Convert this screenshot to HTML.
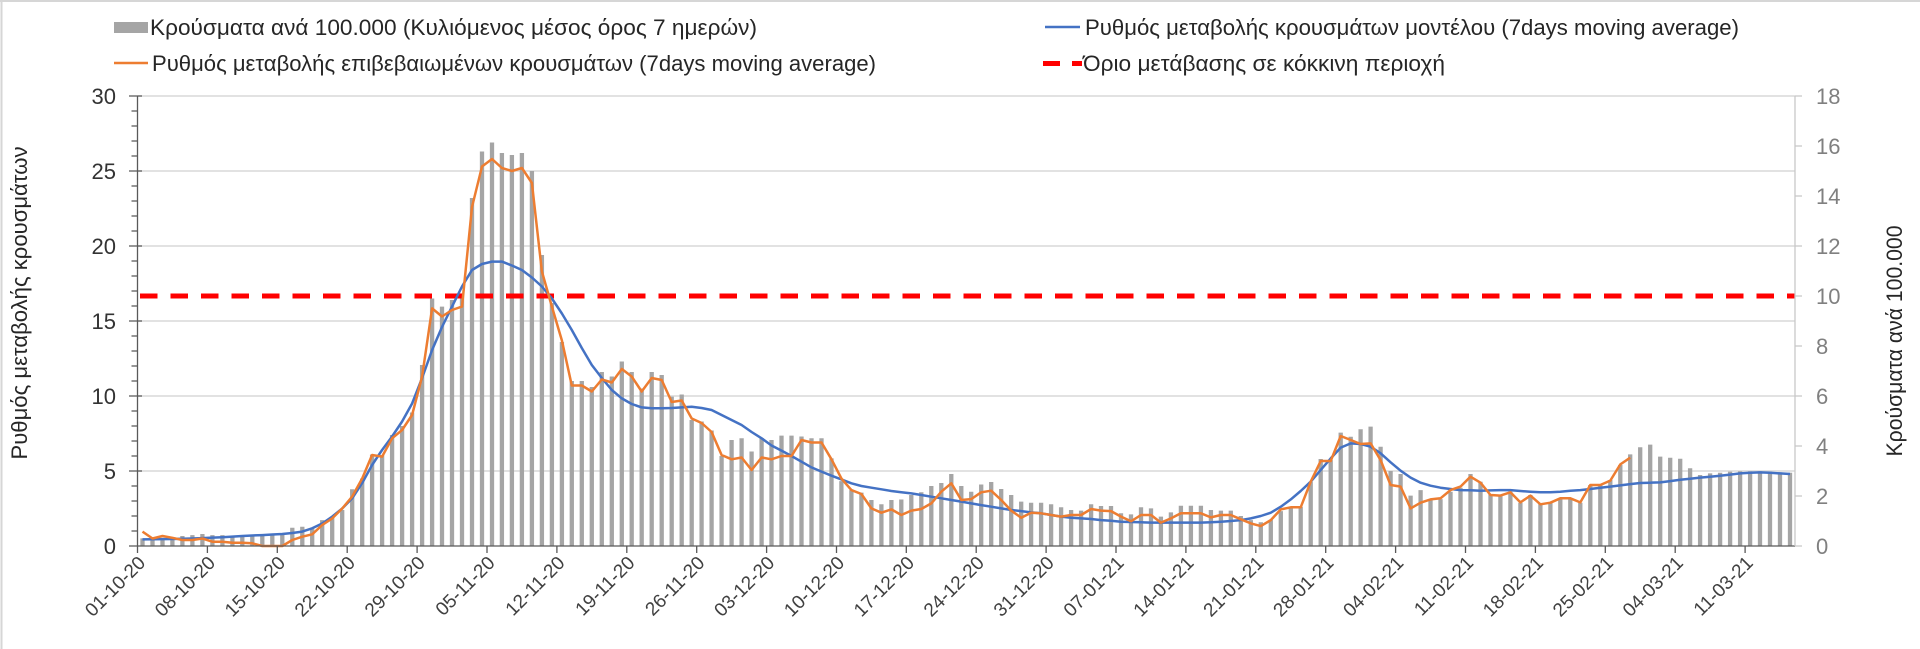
<!DOCTYPE html>
<html><head><meta charset="utf-8"><style>
html,body{margin:0;padding:0;background:#fff;}
svg{display:block;}
text{font-family:"Liberation Sans","Noto Sans CJK SC",sans-serif;}
</style></head><body>
<svg width="1920" height="649" viewBox="0 0 1920 649" xmlns="http://www.w3.org/2000/svg">
<rect width="1920" height="649" fill="#fff"/>
<line x1="0" y1="1" x2="1920" y2="1" stroke="#d6d6d6" stroke-width="2"/>
<line x1="1.5" y1="0" x2="1.5" y2="649" stroke="#d6d6d6" stroke-width="2"/>

<!-- gridlines -->
<g stroke="#d9d9d9" stroke-width="1.5">
<line x1="137.5" y1="96" x2="1795" y2="96"/>
<line x1="137.5" y1="171" x2="1795" y2="171"/>
<line x1="137.5" y1="246" x2="1795" y2="246"/>
<line x1="137.5" y1="321" x2="1795" y2="321"/>
<line x1="137.5" y1="396" x2="1795" y2="396"/>
<line x1="137.5" y1="471" x2="1795" y2="471"/>
</g>

<!-- bars -->
<path fill="none" stroke="#a5a5a5" stroke-width="4.3" d="M142.5 546V538.4M152.5 546V538.5M162.5 546V538.5M172.4 546V539.3M182.4 546V536M192.4 546V535.1M202.4 546V534M212.4 546V535.1M222.4 546V535.1M232.4 546V535.7M242.3 546V535.1M252.3 546V535.1M262.3 546V534.3M272.3 546V534.3M282.3 546V533.4M292.3 546V527.7M302.3 546V526.7M312.2 546V528.3M322.2 546V520.1M332.2 546V516.6M342.2 546V510M352.2 546V489.3M362.2 546V478.5M372.1 546V454.5M382.1 546V455M392.1 546V435M402.1 546V426M412.1 546V412.5M422.1 546V365M432.1 546V298.5M442 546V306.6M452 546V300M462 546V293.4M472 546V198M482 546V151.5M492 546V142.5M501.9 546V153M511.9 546V155M521.9 546V153M531.9 546V171M541.9 546V255M551.9 546V303M561.9 546V342M571.8 546V381M581.8 546V381M591.8 546V387M601.8 546V372M611.8 546V376.5M621.8 546V361.5M631.7 546V372M641.7 546V388.5M651.7 546V372M661.7 546V375M671.7 546V396.6M681.7 546V394.5M691.7 546V420M701.6 546V421.5M711.6 546V430.5M721.6 546V456M731.6 546V440M741.6 546V438.3M751.6 546V451.5M761.6 546V438M771.5 546V440M781.5 546V435.6M791.5 546V435.6M801.5 546V436.5M811.5 546V438.3M821.5 546V438.3M831.5 546V458.4M841.4 546V481.1M851.4 546V490.1M861.4 546V492.6M871.4 546V500M881.4 546V504.3M891.4 546V500M901.3 546V499.5M911.3 546V495M921.3 546V492.3M931.3 546V486M941.3 546V483M951.3 546V474M961.3 546V486M971.2 546V491.7M981.2 546V484.5M991.2 546V482M1001.2 546V489M1011.2 546V495M1021.2 546V501.6M1031.1 546V502.7M1041.1 546V502.7M1051.1 546V504.3M1061.1 546V507.3M1071.1 546V510M1081.1 546V510.6M1091.1 546V504.3M1101 546V506M1111 546V506M1121 546V513.3M1131 546V514.4M1141 546V507.3M1151 546V508.4M1160.9 546V516.6M1170.9 546V512.4M1180.9 546V505.7M1190.9 546V505.7M1200.9 546V505.7M1210.9 546V510M1220.9 546V510.6M1230.8 546V510.6M1240.8 546V516M1250.8 546V520.1M1260.8 546V522.3M1270.8 546V520.1M1280.8 546V511.1M1290.8 546V507.3M1300.7 546V506.7M1310.7 546V481.7M1320.7 546V459M1330.7 546V460.1M1340.7 546V432.6M1350.7 546V436.7M1360.6 546V429.3M1370.6 546V426.6M1380.6 546V446.7M1390.6 546V471M1400.6 546V474M1410.6 546V495.6M1420.6 546V490.1M1430.5 546V499.4M1440.5 546V499.1M1450.5 546V491.7M1460.5 546V487.7M1470.5 546V474M1480.5 546V481.7M1490.5 546V494M1500.4 546V495.6M1510.4 546V491.7M1520.4 546V502.7M1530.4 546V495M1540.4 546V504M1550.4 546V502.7M1560.3 546V498.3M1570.3 546V498.3M1580.3 546V502.7M1590.3 546V485M1600.3 546V485M1610.3 546V480M1620.3 546V465M1630.2 546V454.4M1640.2 546V447.3M1650.2 546V444.6M1660.2 546V456.6M1670.2 546V457.7M1680.2 546V458.7M1690.1 546V468.3M1700.1 546V475M1710.1 546V473.4M1720.1 546V472.7M1730.1 546V471.6M1740.1 546V471.3M1750.1 546V471.3M1760 546V471.3M1770 546V471.6M1780 546V472.4M1790 546V472.7"/>

<!-- red threshold -->
<line x1="140" y1="296" x2="1795" y2="296" stroke="#ff0000" stroke-width="5" stroke-dasharray="17.5 13"/>

<!-- blue model line -->
<polyline fill="none" stroke="#4472c4" stroke-width="2.5" stroke-linejoin="round" points="142.5,539.4 152.5,539.3 162.5,539.1 172.4,539 182.4,538.8 192.4,538.5 202.4,538.1 212.4,537.6 222.4,537.2 232.4,536.6 242.3,536 252.3,535.5 262.3,535.1 272.3,534.5 282.3,534 292.3,533 302.3,531.6 312.2,528.3 322.2,523.5 332.2,516.6 342.2,508.5 352.2,498.3 362.2,483 372.1,465 382.1,450 392.1,436.5 402.1,421.5 412.1,403.5 422.1,378 432.1,350 442,327 452,306.6 462,286.5 472,270 482,264 492,261.6 501.9,261.6 511.9,265.5 521.9,270 531.9,277.5 541.9,286.5 551.9,298.5 561.9,313.5 571.8,330 581.8,348 591.8,365 601.8,378 611.8,390 621.8,398.4 631.7,404 641.7,407.4 651.7,408.3 661.7,408.3 671.7,408 681.7,407.4 691.7,406.7 701.6,408 711.6,410 721.6,415 731.6,420 741.6,425 751.6,432 761.6,438.3 771.5,445.5 781.5,450.6 791.5,456 801.5,461.7 811.5,467.4 821.5,471.6 831.5,475.7 841.4,479.4 851.4,483.3 861.4,486 871.4,487.7 881.4,489.3 891.4,491 901.3,492.3 911.3,493.4 921.3,495 931.3,496.7 941.3,498.3 951.3,500 961.3,501.6 971.2,503.4 981.2,505.1 991.2,506.7 1001.2,508.4 1011.2,510 1021.2,511.1 1031.1,512.4 1041.1,513.3 1051.1,515 1061.1,516.6 1071.1,517.7 1081.1,518.4 1091.1,519 1101,520.1 1111,520.7 1121,521.7 1131,522 1141,522.3 1151,522.6 1160.9,522.6 1170.9,522.6 1180.9,522.6 1190.9,522.6 1200.9,522.6 1210.9,522.3 1220.9,521.7 1230.8,521 1240.8,520.1 1250.8,518.4 1260.8,516 1270.8,512.7 1280.8,506.7 1290.8,499.4 1300.7,491 1310.7,481.7 1320.7,470 1330.7,458.4 1340.7,447.6 1350.7,443.4 1360.6,444 1370.6,446.7 1380.6,453.3 1390.6,462.3 1400.6,470.7 1410.6,477.6 1420.6,482.7 1430.5,485.7 1440.5,487.7 1450.5,489 1460.5,490.1 1470.5,490.2 1480.5,490.7 1490.5,490.4 1500.4,490.1 1510.4,490.1 1520.4,491 1530.4,491.7 1540.4,492.3 1550.4,492.3 1560.3,491.7 1570.3,490.7 1580.3,490.1 1590.3,489 1600.3,487.7 1610.3,486.6 1620.3,485.4 1630.2,484.1 1640.2,483 1650.2,482.7 1660.2,482.4 1670.2,481.1 1680.2,479.7 1690.1,478.7 1700.1,477.6 1710.1,476.7 1720.1,475.7 1730.1,474.6 1740.1,473.4 1750.1,472.7 1760,472.4 1770,472.7 1780,473.4 1790,474"/>

<!-- orange confirmed line -->
<polyline fill="none" stroke="#ed7d31" stroke-width="2.5" stroke-linejoin="round" points="142.5,531.6 152.5,538.5 162.5,536 172.4,537.8 182.4,540 192.4,540 202.4,538.5 212.4,541.7 222.4,541.7 232.4,542.7 242.3,542.7 252.3,543.3 262.3,546 272.3,546 282.3,546 292.3,540 302.3,536.7 312.2,534.3 322.2,525 332.2,518.4 342.2,508.5 352.2,496.5 362.2,478.5 372.1,455 382.1,456.6 392.1,438.3 402.1,430 412.1,415 422.1,376.5 432.1,308.4 442,316.5 452,310 462,306.6 472,207 482,166.5 492,159 501.9,168 511.9,171 521.9,168 531.9,183 541.9,271.5 551.9,306.6 561.9,340.5 571.8,385.5 581.8,385.5 591.8,391.5 601.8,379.5 611.8,382.5 621.8,369 631.7,376.5 641.7,391.5 651.7,378 661.7,380 671.7,402 681.7,400.5 691.7,418.5 701.6,423 711.6,432 721.6,455 731.6,459.3 741.6,457.5 751.6,470 761.6,457.5 771.5,459.3 781.5,456 791.5,456 801.5,440 811.5,442.5 821.5,442.5 831.5,459.3 841.4,478.5 851.4,490.1 861.4,494 871.4,508.4 881.4,512.7 891.4,509.4 901.3,515 911.3,510.6 921.3,509 931.3,503.4 941.3,491.7 951.3,483.3 961.3,500 971.2,499.1 981.2,492.3 991.2,490.7 1001.2,500 1011.2,510.6 1021.2,517.7 1031.1,512.7 1041.1,513.3 1051.1,515 1061.1,516.6 1071.1,515 1081.1,515 1091.1,509 1101,510.6 1111,511.1 1121,516.6 1131,521.3 1141,515 1151,515 1160.9,522.6 1170.9,518.4 1180.9,513.3 1190.9,513.3 1200.9,513.3 1210.9,517.4 1220.9,515 1230.8,515 1240.8,519.3 1250.8,523.4 1260.8,526.1 1270.8,520.1 1280.8,509.4 1290.8,507.3 1300.7,507.3 1310.7,481.7 1320.7,461 1330.7,461 1340.7,436 1350.7,440 1360.6,444 1370.6,443.4 1380.6,460.1 1390.6,485 1400.6,486.6 1410.6,508.4 1420.6,502.7 1430.5,499.4 1440.5,498.3 1450.5,490.1 1460.5,486.6 1470.5,476.7 1480.5,482.7 1490.5,495 1500.4,495.6 1510.4,492.3 1520.4,502.4 1530.4,495.6 1540.4,504.3 1550.4,502.7 1560.3,498.3 1570.3,498.3 1580.3,502.4 1590.3,485 1600.3,485 1610.3,480.6 1620.3,464.4 1630.2,457.7"/>

<!-- left axis -->
<g stroke="#595959" stroke-width="1.3">
<line x1="137.5" y1="96" x2="137.5" y2="546"/>
<path d="M129 96H142M129 171H142M129 246H142M129 321H142M129 396H142M129 471H142M129 546H137.5"/>
<path d="M131.5 111H137.5M131.5 126H137.5M131.5 141H137.5M131.5 156H137.5M131.5 186H137.5M131.5 201H137.5M131.5 216H137.5M131.5 231H137.5M131.5 261H137.5M131.5 276H137.5M131.5 291H137.5M131.5 306H137.5M131.5 336H137.5M131.5 351H137.5M131.5 366H137.5M131.5 381H137.5M131.5 411H137.5M131.5 426H137.5M131.5 441H137.5M131.5 456H137.5M131.5 486H137.5M131.5 501H137.5M131.5 516H137.5M131.5 531H137.5"/>
<!-- bottom axis -->
<line x1="137.5" y1="546" x2="1795" y2="546"/>
<path d="M137.5 546V553M207.4 546V553M277.3 546V553M347.2 546V553M417.1 546V553M487 546V553M556.9 546V553M626.8 546V553M696.7 546V553M766.6 546V553M836.5 546V553M906.3 546V553M976.2 546V553M1046.1 546V553M1116 546V553M1185.9 546V553M1255.8 546V553M1325.7 546V553M1395.6 546V553M1465.5 546V553M1535.4 546V553M1605.3 546V553M1675.2 546V553M1745.1 546V553"/>
</g>

<!-- right axis -->
<g stroke="#c8c8c8" stroke-width="1.3">
<line x1="1795" y1="96" x2="1795" y2="546"/>
<path d="M1795 96H1802M1795 146H1802M1795 196H1802M1795 246H1802M1795 296H1802M1795 346H1802M1795 396H1802M1795 446H1802M1795 496H1802M1795 546H1802"/>
</g>

<!-- left labels -->
<g font-size="22" fill="#333" text-anchor="end">
<text x="116" y="104">30</text>
<text x="116" y="179">25</text>
<text x="116" y="254">20</text>
<text x="116" y="329">15</text>
<text x="116" y="404">10</text>
<text x="116" y="479">5</text>
<text x="116" y="554">0</text>
</g>

<!-- right labels -->
<g font-size="22" fill="#808080">
<text x="1816" y="104">18</text>
<text x="1816" y="154">16</text>
<text x="1816" y="204">14</text>
<text x="1816" y="254">12</text>
<text x="1816" y="304">10</text>
<text x="1816" y="354">8</text>
<text x="1816" y="404">6</text>
<text x="1816" y="454">4</text>
<text x="1816" y="504">2</text>
<text x="1816" y="554">0</text>
</g>

<!-- date labels -->
<g font-size="19" fill="#404040" text-anchor="end">
<text transform="translate(146.5,564) rotate(-45)">01-10-20</text>
<text transform="translate(216.4,564) rotate(-45)">08-10-20</text>
<text transform="translate(286.3,564) rotate(-45)">15-10-20</text>
<text transform="translate(356.2,564) rotate(-45)">22-10-20</text>
<text transform="translate(426.1,564) rotate(-45)">29-10-20</text>
<text transform="translate(496,564) rotate(-45)">05-11-20</text>
<text transform="translate(565.9,564) rotate(-45)">12-11-20</text>
<text transform="translate(635.8,564) rotate(-45)">19-11-20</text>
<text transform="translate(705.7,564) rotate(-45)">26-11-20</text>
<text transform="translate(775.6,564) rotate(-45)">03-12-20</text>
<text transform="translate(845.5,564) rotate(-45)">10-12-20</text>
<text transform="translate(915.3,564) rotate(-45)">17-12-20</text>
<text transform="translate(985.2,564) rotate(-45)">24-12-20</text>
<text transform="translate(1055.1,564) rotate(-45)">31-12-20</text>
<text transform="translate(1125,564) rotate(-45)">07-01-21</text>
<text transform="translate(1194.9,564) rotate(-45)">14-01-21</text>
<text transform="translate(1264.8,564) rotate(-45)">21-01-21</text>
<text transform="translate(1334.7,564) rotate(-45)">28-01-21</text>
<text transform="translate(1404.6,564) rotate(-45)">04-02-21</text>
<text transform="translate(1474.5,564) rotate(-45)">11-02-21</text>
<text transform="translate(1544.4,564) rotate(-45)">18-02-21</text>
<text transform="translate(1614.3,564) rotate(-45)">25-02-21</text>
<text transform="translate(1684.2,564) rotate(-45)">04-03-21</text>
<text transform="translate(1754.1,564) rotate(-45)">11-03-21</text>
</g>

<!-- axis titles -->
<text font-size="22" fill="#262626" text-anchor="middle" transform="translate(27,303) rotate(-90)" textLength="313" lengthAdjust="spacingAndGlyphs">Ρυθμός μεταβολής κρουσμάτων</text>
<text font-size="22" fill="#262626" text-anchor="middle" transform="translate(1902,341) rotate(-90)" textLength="231" lengthAdjust="spacingAndGlyphs">Κρούσματα ανά 100.000</text>

<!-- legend -->
<rect x="114" y="22" width="34" height="11" fill="#a5a5a5"/>
<text x="150" y="35" font-size="22" fill="#262626" textLength="607" lengthAdjust="spacingAndGlyphs">Κρούσματα ανά 100.000 (Κυλιόμενος μέσος όρος 7 ημερών)</text>
<line x1="114" y1="63" x2="148" y2="63" stroke="#ed7d31" stroke-width="2.5"/>
<text x="152" y="71" font-size="22" fill="#262626" textLength="724" lengthAdjust="spacingAndGlyphs">Ρυθμός μεταβολής επιβεβαιωμένων κρουσμάτων (7days moving average)</text>
<line x1="1045" y1="27" x2="1080" y2="27" stroke="#4472c4" stroke-width="2.5"/>
<text x="1085" y="35" font-size="22" fill="#262626" textLength="654" lengthAdjust="spacingAndGlyphs">Ρυθμός μεταβολής κρουσμάτων μοντέλου (7days moving average)</text>
<path d="M1043 63.5H1060M1072 63.5H1082" stroke="#ff0000" stroke-width="5"/>
<text x="1083" y="71" font-size="22" fill="#262626" textLength="362" lengthAdjust="spacingAndGlyphs">Όριο μετάβασης σε κόκκινη περιοχή</text>
</svg>
</body></html>
